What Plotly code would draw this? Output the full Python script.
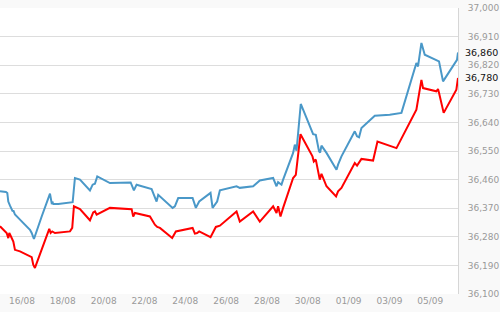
import plotly.graph_objects as go

blue_time = [
    "2015-08-14 22:10", "2015-08-15 05:10", "2015-08-15 06:45", "2015-08-15 07:55", "2015-08-15 09:55",
    "2015-08-15 11:55", "2015-08-15 13:05", "2015-08-15 13:50", "2015-08-15 15:00", "2015-08-15 15:45",
    "2015-08-15 21:40", "2015-08-16 03:30", "2015-08-16 09:25", "2015-08-16 11:25", "2015-08-16 14:05",
    "2015-08-16 23:10", "2015-08-17 08:55", "2015-08-17 10:55", "2015-08-17 12:05", "2015-08-17 12:45",
    "2015-08-17 18:40", "2015-08-18 11:35", "2015-08-18 14:15", "2015-08-18 20:10", "2015-08-19 00:00",
    "2015-08-19 07:55", "2015-08-19 11:05", "2015-08-19 13:45", "2015-08-19 16:30", "2015-08-19 19:40",
    "2015-08-20 07:25", "2015-08-21 07:45", "2015-08-21 10:05", "2015-08-21 11:35", "2015-08-21 14:45",
    "2015-08-21 18:40", "2015-08-22 08:25", "2015-08-22 11:05", "2015-08-22 14:15", "2015-08-22 16:10",
    "2015-08-22 18:10", "2015-08-23 02:00", "2015-08-23 09:05", "2015-08-23 11:45", "2015-08-23 15:40",
    "2015-08-24 08:35", "2015-08-24 12:25", "2015-08-24 16:20", "2015-08-25 05:40", "2015-08-25 08:05",
    "2015-08-25 10:45", "2015-08-25 13:25", "2015-08-25 16:40", "2015-08-26 12:15", "2015-08-26 16:05",
    "2015-08-27 07:45", "2015-08-27 15:35", "2015-08-28 07:15", "2015-08-28 11:15", "2015-08-28 13:05",
    "2015-08-28 17:05", "2015-08-28 19:00", "2015-08-29 06:45", "2015-08-29 08:45", "2015-08-29 10:45",
    "2015-08-29 15:45", "2015-08-30 06:15", "2015-08-30 09:25", "2015-08-30 13:15", "2015-08-30 14:30",
    "2015-08-30 16:05", "2015-08-30 22:00", "2015-08-31 09:45", "2015-08-31 11:35", "2015-08-31 15:35",
    "2015-09-01 07:15", "2015-09-01 09:55", "2015-09-01 12:15", "2015-09-01 15:05", "2015-09-02 06:45",
    "2015-09-03 00:20", "2015-09-03 14:05", "2015-09-04 07:40", "2015-09-04 09:35", "2015-09-04 13:35",
    "2015-09-04 17:30", "2015-09-05 10:15", "2015-09-05 15:00", "2015-09-06 07:25", "2015-09-06 08:35",
]
blue_value = [
    36423, 36421, 36418, 36391, 36378,
    36365, 36360, 36363, 36355, 36350,
    36334, 36318, 36302, 36292, 36273,
    36344, 36416, 36386, 36388, 36383,
    36383, 36389, 36465, 36460, 36449,
    36426, 36444, 36447, 36470, 36465,
    36449, 36451, 36434, 36426, 36444,
    36441, 36430, 36412, 36391, 36412,
    36407, 36386, 36371, 36376, 36402,
    36402, 36371, 36391, 36418, 36371,
    36381, 36391, 36426, 36439, 36434,
    36439, 36457, 36465, 36439, 36452,
    36444, 36460, 36544, 36570, 36551,
    36698, 36603, 36601, 36549, 36545,
    36567, 36544, 36491, 36507, 36533,
    36612, 36596, 36593, 36622, 36661,
    36664, 36670, 36827, 36816, 36890,
    36853, 36832, 36769, 36837, 36860,
]

red_time = [
    "2015-08-14 22:10", "2015-08-15 02:05", "2015-08-15 06:00", "2015-08-15 07:55", "2015-08-15 09:05",
    "2015-08-15 11:05", "2015-08-15 13:50", "2015-08-15 15:45", "2015-08-15 21:40", "2015-08-16 11:25",
    "2015-08-16 13:15", "2015-08-16 15:15", "2015-08-17 01:00", "2015-08-17 08:05", "2015-08-17 09:45",
    "2015-08-17 11:35", "2015-08-17 14:45", "2015-08-18 08:25", "2015-08-18 11:05", "2015-08-18 13:05",
    "2015-08-18 20:10", "2015-08-19 07:55", "2015-08-19 11:45", "2015-08-19 13:45", "2015-08-19 15:45",
    "2015-08-20 07:25", "2015-08-21 08:55", "2015-08-21 10:45", "2015-08-21 12:45", "2015-08-22 06:25",
    "2015-08-22 12:15", "2015-08-22 15:00", "2015-08-22 18:10", "2015-08-23 02:00", "2015-08-23 08:35",
    "2015-08-23 12:55", "2015-08-24 08:35", "2015-08-24 11:15", "2015-08-24 13:55", "2015-08-24 16:20",
    "2015-08-25 05:40", "2015-08-25 11:55", "2015-08-25 16:40", "2015-08-26 12:15", "2015-08-26 16:05",
    "2015-08-27 07:45", "2015-08-27 15:35", "2015-08-28 07:15", "2015-08-28 09:15", "2015-08-28 11:15",
    "2015-08-28 13:05", "2015-08-28 15:55", "2015-08-28 19:00", "2015-08-29 06:45", "2015-08-29 09:55",
    "2015-08-29 15:25", "2015-08-30 05:30", "2015-08-30 07:05", "2015-08-30 09:25", "2015-08-30 12:05",
    "2015-08-30 14:05", "2015-08-30 16:05", "2015-08-30 22:00", "2015-08-31 09:15", "2015-08-31 11:35",
    "2015-08-31 15:35", "2015-09-01 07:15", "2015-09-01 09:55", "2015-09-01 12:15", "2015-09-01 15:05",
    "2015-09-02 04:45", "2015-09-02 09:55", "2015-09-03 08:15", "2015-09-04 07:40", "2015-09-04 13:35",
    "2015-09-04 15:30", "2015-09-05 07:10", "2015-09-05 09:05", "2015-09-05 10:15", "2015-09-05 15:45",
    "2015-09-06 06:40", "2015-09-06 08:35",
]
red_value = [
    36313, 36302, 36292, 36276, 36292,
    36281, 36265, 36239, 36234, 36216,
    36192, 36182, 36250, 36305, 36292,
    36297, 36292, 36297, 36308, 36376,
    36367, 36332, 36357, 36360, 36350,
    36371, 36367, 36344, 36355, 36344,
    36318, 36311, 36308, 36292, 36276,
    36297, 36308, 36290, 36292, 36297,
    36279, 36311, 36315, 36360, 36328,
    36360, 36328, 36376, 36365, 36355,
    36376, 36344, 36371, 36465, 36475,
    36603, 36533, 36517, 36523, 36488,
    36460, 36478, 36439, 36407, 36423,
    36434, 36512, 36504, 36512, 36525,
    36520, 36580, 36559, 36680, 36774,
    36748, 36738, 36745, 36733, 36670,
    36743, 36780,
]

y_ticks = [36100, 36190, 36280, 36370, 36460, 36550, 36640, 36730, 36820, 36910, 37000]
x_range = ["2015-08-14 22:10", "2015-09-06 08:35"]
last_blue_label = "36,860"
last_red_label = "36,780"

fig = go.Figure()
fig.add_trace(go.Scatter(x=blue_time, y=blue_value, mode="lines",
                         line=dict(color="#4a98c8", width=2), hoverinfo="skip"))
fig.add_trace(go.Scatter(x=red_time, y=red_value, mode="lines",
                         line=dict(color="#ff0000", width=2), hoverinfo="skip"))

fig.add_annotation(x=1, xref="paper", y=blue_value[-1], yref="y", text=last_blue_label,
                   showarrow=False, xanchor="left", xshift=5,
                   font=dict(family="DejaVu Sans", size=9.5, color="#111111"))
fig.add_annotation(x=1, xref="paper", y=red_value[-1], yref="y", text=last_red_label,
                   showarrow=False, xanchor="left", xshift=5,
                   font=dict(family="DejaVu Sans", size=9.5, color="#111111"))

fig.update_layout(
    width=500, height=312,
    margin=dict(l=0, r=42, t=8, b=18),
    paper_bgcolor="#f9f9f9",
    plot_bgcolor="#ffffff",
    showlegend=False,
    font=dict(family="DejaVu Sans", size=9, color="#999999"),
    xaxis=dict(
        type="date", range=x_range,
        tick0="2015-08-16", dtick=2 * 86400000, tickformat="%d/%m",
        showgrid=False, zeroline=False, showline=False,
        ticks="", tickfont=dict(size=9, color="#999999"),
    ),
    yaxis=dict(
        side="right", range=[36100, 37000],
        tickvals=y_ticks, tickformat=",d",
        showgrid=True, gridcolor="#dddddd", gridwidth=1,
        zeroline=False, showline=True, linecolor="#d6d6d6", linewidth=1,
        ticks="outside", ticklen=7, tickcolor="rgba(0,0,0,0)",
        tickfont=dict(size=9, color="#999999"),
    ),
)

fig.write_html("out.html")
